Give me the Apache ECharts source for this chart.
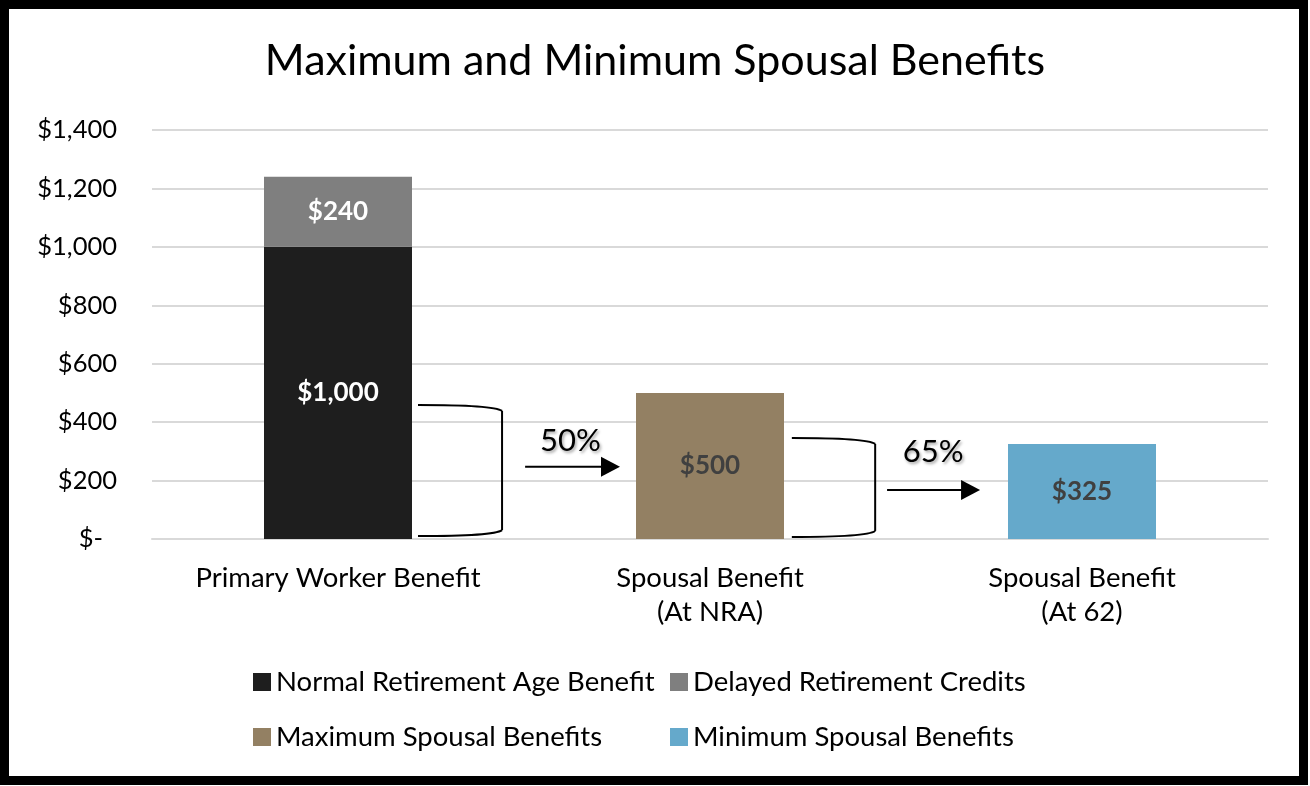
<!DOCTYPE html>
<html>
<head>
<meta charset="utf-8">
<script src="https://cdn.jsdelivr.net/npm/echarts@6/dist/echarts.min.js"></script>
<style>
html,body{margin:0;padding:0;background:#fff;}
#chart{width:1310px;height:786px;}
</style>
</head>
<body>
<div id="chart"></div>
<script>
// ---- data ----
var categories = ['Primary Worker Benefit', 'Spousal Benefit\n(At NRA)', 'Spousal Benefit\n(At 62)'];
var seriesNames = ['Normal Retirement Age Benefit', 'Delayed Retirement Credits', 'Maximum Spousal Benefits', 'Minimum Spousal Benefits'];
var nraBenefit = [1000, '-', '-'];
var delayedCredits = [240, '-', '-'];
var maxSpousal = ['-', 500, '-'];
var minSpousal = ['-', '-', 325];
var yTicks = [0, 200, 400, 600, 800, 1000, 1200, 1400];
var percentLabels = ['50%', '65%'];

// ---- annotation geometry (x on hidden 0..3 axis, y in $) ----
var brackets = [
  [0.715, 0.941, 459, 10],
  [1.720, 1.944, 346, 7]
];
var arrows = [
  [1.003, 1.258, 247],
  [1.976, 2.226, 168]
];
var pctPos = [
  [1.125, 335],
  [2.100, 297]
];

var FONT = 'Lato';
var colors = ['#1e1e1e', '#7f7f7f', '#938063', '#65a9cb'];

var chart = echarts.init(document.getElementById('chart'), null, {renderer: 'canvas'});

function barLabel(color) {
  return {
    show: true, position: 'inside', color: color, fontFamily: FONT,
    fontWeight: 'bold', fontSize: 26,
    formatter: function (p) { return '$' + p.value.toLocaleString('en-US'); }
  };
}

var option = {
  backgroundColor: '#fff',
  animation: false,
  title: {
    text: 'Maximum and Minimum Spousal Benefits',
    left: 'center', top: 35,
    textStyle: {fontFamily: FONT, fontSize: 43, fontWeight: 'normal', color: '#000'}
  },
  legend: [
    {
      data: [seriesNames[0], seriesNames[2]], orient: 'vertical', left: 248, top: 663,
      itemWidth: 18, itemHeight: 18, itemGap: 27, icon: 'rect',
      textStyle: {fontFamily: FONT, fontSize: 27.5, color: '#000'}
    },
    {
      data: [seriesNames[1], seriesNames[3]], orient: 'vertical', left: 665, top: 663,
      itemWidth: 18, itemHeight: 18, itemGap: 27, icon: 'rect',
      textStyle: {fontFamily: FONT, fontSize: 27.5, color: '#000'}
    }
  ],
  grid: {left: 152, right: 42, top: 130, bottom: 247, containLabel: false},
  xAxis: [
    {
      type: 'category', data: categories,
      axisLine: {lineStyle: {color: '#d9d9d9', width: 2}},
      axisTick: {show: false},
      axisLabel: {fontFamily: FONT, fontSize: 27.5, color: '#000', margin: 22, lineHeight: 34}
    },
    {type: 'value', min: 0, max: 3, show: false}
  ],
  yAxis: {
    type: 'value', min: yTicks[0], max: yTicks[yTicks.length - 1], interval: yTicks[1] - yTicks[0],
    axisLine: {show: false}, axisTick: {show: false},
    splitLine: {lineStyle: {color: '#d9d9d9', width: 2}},
    axisLabel: {
      fontFamily: FONT, fontSize: 25.5, color: '#000', margin: 35,
      formatter: function (v) { return v === 0 ? '{z|$-}' : '$' + v.toLocaleString('en-US'); },
      rich: {z: {fontFamily: FONT, fontSize: 25.5, color: '#000', padding: [0, 14, 0, 0]}}
    }
  },
  series: [
    {name: seriesNames[0], type: 'bar', stack: 't', data: nraBenefit, barWidth: 148, itemStyle: {color: colors[0]}, label: barLabel('#fff')},
    {name: seriesNames[1], type: 'bar', stack: 't', data: delayedCredits, barWidth: 148, itemStyle: {color: colors[1]}, label: barLabel('#fff')},
    {name: seriesNames[2], type: 'bar', stack: 't', data: maxSpousal, barWidth: 148, itemStyle: {color: colors[2]}, label: barLabel('#404040')},
    {name: seriesNames[3], type: 'bar', stack: 't', data: minSpousal, barWidth: 148, itemStyle: {color: colors[3]}, label: barLabel('#404040')},
    {
      type: 'custom', xAxisIndex: 1, silent: true, data: brackets,
      renderItem: function (params, api) {
        var a = api.coord([api.value(0), api.value(2)]);
        var b = api.coord([api.value(1), api.value(3)]);
        var x0 = a[0], x1 = b[0], yT = a[1], yB = b[1];
        var st = {stroke: '#000', lineWidth: 2, fill: null};
        return {
          type: 'group', children: [
            {type: 'bezierCurve', shape: {x1: x0, y1: yT, x2: x1, y2: yT + 6, cpx1: x1 - 8, cpy1: yT}, style: st},
            {type: 'line', shape: {x1: x1, y1: yT + 6, x2: x1, y2: yB - 6}, style: st},
            {type: 'bezierCurve', shape: {x1: x1, y1: yB - 6, x2: x0, y2: yB, cpx1: x1 - 8, cpy1: yB}, style: st}
          ]
        };
      }
    },
    {
      type: 'custom', xAxisIndex: 1, silent: true, data: arrows,
      renderItem: function (params, api) {
        var a = api.coord([api.value(0), api.value(2)]);
        var b = api.coord([api.value(1), api.value(2)]);
        var y = a[1];
        return {
          type: 'group', children: [
            {type: 'line', shape: {x1: a[0], y1: y, x2: b[0] - 18, y2: y}, style: {stroke: '#000', lineWidth: 2}},
            {type: 'polygon', shape: {points: [[b[0] - 19, y - 10], [b[0], y], [b[0] - 19, y + 10]]}, style: {fill: '#000'}}
          ]
        };
      }
    },
    {
      type: 'custom', xAxisIndex: 1, silent: true, data: pctPos,
      renderItem: function (params, api) {
        var p = api.coord([api.value(0), api.value(1)]);
        return {
          type: 'text', x: p[0], y: p[1],
          style: {
            text: percentLabels[params.dataIndex], fontFamily: FONT, fontSize: 31, fill: '#000',
            align: 'center', verticalAlign: 'middle',
            textShadowColor: 'rgba(0,0,0,0.35)', textShadowBlur: 3, textShadowOffsetX: 1.5, textShadowOffsetY: 1.5
          }
        };
      }
    }
  ],
  graphic: [
    {type: 'rect', shape: {x: 4.5, y: 4.5, width: 1299, height: 776}, style: {fill: null, stroke: '#000', lineWidth: 9}, silent: true, z: 100}
  ]
};
chart.setOption(option);
</script>
</body>
</html>
